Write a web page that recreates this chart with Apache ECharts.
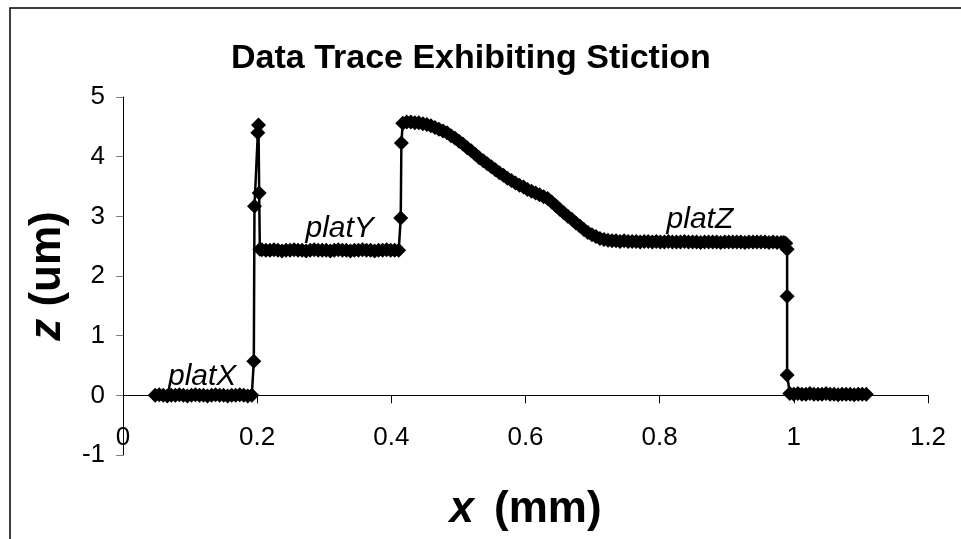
<!DOCTYPE html>
<html>
<head>
<meta charset="utf-8">
<script src="https://cdn.jsdelivr.net/npm/echarts@6/dist/echarts.min.js"></script>
<style>
  html, body { margin: 0; padding: 0; background: #fff; }
  #chart { width: 961px; height: 539px; }
</style>
</head>
<body>
<div id="chart"></div>
<script>
// measured trace, x in mm, z in um, one list per stretch of the scan
var platXPts = [
    [0.048, 0], [0.054, 0.01], [0.060, 0], [0.066, -0.01], [0.072, 0], [0.078, 0], [0.084, 0.01],
    [0.090, 0], [0.096, -0.01], [0.102, 0], [0.108, 0.01], [0.114, 0], [0.120, 0], [0.126, -0.01],
    [0.132, 0], [0.138, 0.01], [0.144, 0], [0.150, 0], [0.156, -0.01], [0.162, 0], [0.168, 0],
    [0.174, 0.01], [0.180, 0], [0.186, -0.01], [0.192, 0]
];
var spikePts = [
    [0.195, 0.57], [0.196, 3.17], [0.201, 4.40], [0.202, 4.53], [0.203, 3.39], [0.204, 2.45]
];
var platYPts = [
    [0.207, 2.44], [0.213, 2.43], [0.219, 2.43], [0.225, 2.44], [0.231, 2.43], [0.237, 2.42],
    [0.243, 2.43], [0.249, 2.43], [0.255, 2.44], [0.261, 2.43], [0.267, 2.43], [0.273, 2.42],
    [0.279, 2.43], [0.285, 2.44], [0.291, 2.43], [0.297, 2.43], [0.303, 2.43], [0.309, 2.42],
    [0.315, 2.43], [0.321, 2.44], [0.327, 2.43], [0.333, 2.43], [0.339, 2.42], [0.345, 2.43],
    [0.351, 2.43], [0.357, 2.44], [0.363, 2.43], [0.369, 2.43], [0.375, 2.42], [0.381, 2.43],
    [0.387, 2.43], [0.393, 2.44], [0.399, 2.43], [0.405, 2.43], [0.411, 2.43]
];
var risePts = [
    [0.414, 2.97], [0.415, 4.23], [0.417, 4.56]
];
var slopePts = [
    [0.423, 4.58], [0.429, 4.58], [0.435, 4.57], [0.441, 4.57], [0.447, 4.55], [0.453, 4.54],
    [0.459, 4.52], [0.465, 4.49], [0.471, 4.46], [0.477, 4.43], [0.483, 4.40], [0.489, 4.35],
    [0.495, 4.31], [0.501, 4.26], [0.507, 4.21], [0.513, 4.15], [0.519, 4.10], [0.525, 4.04],
    [0.531, 3.98], [0.537, 3.93], [0.543, 3.88], [0.549, 3.83], [0.555, 3.78], [0.561, 3.73],
    [0.567, 3.69], [0.573, 3.64], [0.579, 3.60], [0.585, 3.56], [0.591, 3.52], [0.597, 3.49],
    [0.603, 3.45], [0.609, 3.42], [0.615, 3.39], [0.621, 3.36], [0.627, 3.33], [0.633, 3.30],
    [0.639, 3.24], [0.645, 3.18], [0.651, 3.12], [0.657, 3.06], [0.663, 3.00], [0.669, 2.95],
    [0.675, 2.89], [0.681, 2.84], [0.687, 2.78], [0.693, 2.73], [0.699, 2.69], [0.705, 2.66],
    [0.711, 2.63], [0.717, 2.61], [0.723, 2.60]
];
var platZPts = [
    [0.729, 2.59], [0.735, 2.59], [0.741, 2.58], [0.747, 2.59], [0.753, 2.58], [0.759, 2.58],
    [0.765, 2.58], [0.771, 2.57], [0.777, 2.58], [0.783, 2.58], [0.789, 2.57], [0.795, 2.58],
    [0.801, 2.57], [0.807, 2.57], [0.813, 2.58], [0.819, 2.57], [0.825, 2.57], [0.831, 2.57],
    [0.837, 2.58], [0.843, 2.57], [0.849, 2.57], [0.855, 2.57], [0.861, 2.56], [0.867, 2.57],
    [0.873, 2.57], [0.879, 2.57], [0.885, 2.57], [0.891, 2.56], [0.897, 2.57], [0.903, 2.57],
    [0.909, 2.57], [0.915, 2.57], [0.921, 2.57], [0.927, 2.56], [0.933, 2.57], [0.939, 2.57],
    [0.945, 2.57], [0.951, 2.57], [0.957, 2.57], [0.963, 2.56], [0.969, 2.57], [0.975, 2.56],
    [0.981, 2.56], [0.985, 2.56]
];
var dropPts = [
    [0.988, 2.55], [0.990, 2.45], [0.990, 1.66], [0.990, 0.34]
];
var basePts = [
    [0.994, 0.03], [1.000, 0.02], [1.006, 0.03], [1.012, 0.02], [1.018, 0.02], [1.024, 0.03],
    [1.030, 0.02], [1.036, 0.02], [1.042, 0.02], [1.048, 0.03], [1.054, 0.02], [1.060, 0.02],
    [1.066, 0.01], [1.072, 0.02], [1.078, 0.02], [1.084, 0.02], [1.090, 0.01], [1.096, 0.02],
    [1.102, 0.02], [1.108, 0.02]
];

// plateau labels and where they sit
var noteNames = ['platX', 'platY', 'platZ'];
var notePos = [[0.118, 0.32], [0.323, 2.79], [0.86, 2.94]];

var trace = [].concat(platXPts, spikePts, platYPts, risePts, slopePts, platZPts, dropPts, basePts);

var notes = noteNames.map(function (n, i) {
    return { name: n, value: notePos[i] };
});

var FONT = '"Liberation Sans", Arial, sans-serif';

var chart = echarts.init(document.getElementById('chart'));

var option = {
    animation: false,
    backgroundColor: '#fff',
    title: {
        text: 'Data Trace Exhibiting Stiction',
        left: 226,
        top: 37,
        textStyle: { fontFamily: FONT, fontSize: 34, fontWeight: 'bold', color: '#000' }
    },
    graphic: [{
        type: 'rect',
        shape: { x: 10, y: 8, width: 1000, height: 600 },
        style: { fill: 'none', stroke: '#000', lineWidth: 1.5 },
        silent: true
    }],
    grid: { left: 123, right: 33, top: 97, bottom: 84, outerBoundsMode: 'none', containLabel: false },
    xAxis: {
        type: 'value',
        min: 0,
        max: 1.2,
        interval: 0.2,
        name: '{i|x} (mm)',
        nameLocation: 'middle',
        nameGap: 33,
        nameTextStyle: {
            fontFamily: FONT, fontSize: 44, fontWeight: 'bold', color: '#000',
            rich: { i: { fontFamily: FONT, fontSize: 44, fontWeight: 'bold', fontStyle: 'italic', color: '#000', padding: [0, 8, 0, 0] } }
        },
        axisLine: { onZero: true, lineStyle: { color: '#000', width: 1 } },
        axisTick: { show: true, inside: false, length: 8, lineStyle: { color: '#000' } },
        axisLabel: { margin: -30, fontFamily: FONT, fontSize: 26, color: '#000' },
        splitLine: { show: false }
    },
    yAxis: {
        type: 'value',
        min: -1,
        max: 5,
        interval: 1,
        name: '{i|z} (um)',
        nameLocation: 'middle',
        nameGap: 53,
        nameTextStyle: {
            fontFamily: FONT, fontSize: 44, fontWeight: 'bold', color: '#000',
            rich: { i: { fontFamily: FONT, fontSize: 44, fontWeight: 'bold', fontStyle: 'italic', color: '#000' } }
        },
        axisLine: { onZero: false, lineStyle: { color: '#000', width: 1 } },
        axisTick: { show: true, inside: false, length: 7, lineStyle: { color: '#808080' } },
        axisLabel: { margin: 18, fontFamily: FONT, fontSize: 26, color: '#000' },
        splitLine: { show: false }
    },
    series: [
        {
            name: 'trace',
            type: 'line',
            data: trace,
            symbol: 'diamond',
            symbolSize: 15,
            showSymbol: true,
            itemStyle: { color: '#000' },
            lineStyle: { color: '#000', width: 2.5 },
            z: 3
        },
        {
            name: 'notes',
            type: 'scatter',
            data: notes,
            symbolSize: 0,
            itemStyle: { opacity: 1 },
            label: {
                show: true,
                position: [0, 0],
                align: 'center',
                verticalAlign: 'middle',
                formatter: '{b}',
                fontFamily: FONT,
                fontSize: 30,
                fontStyle: 'italic',
                color: '#000',
                textBorderWidth: 0
            },
            z: 4
        }
    ]
};

chart.setOption(option);
</script>
</body>
</html>
